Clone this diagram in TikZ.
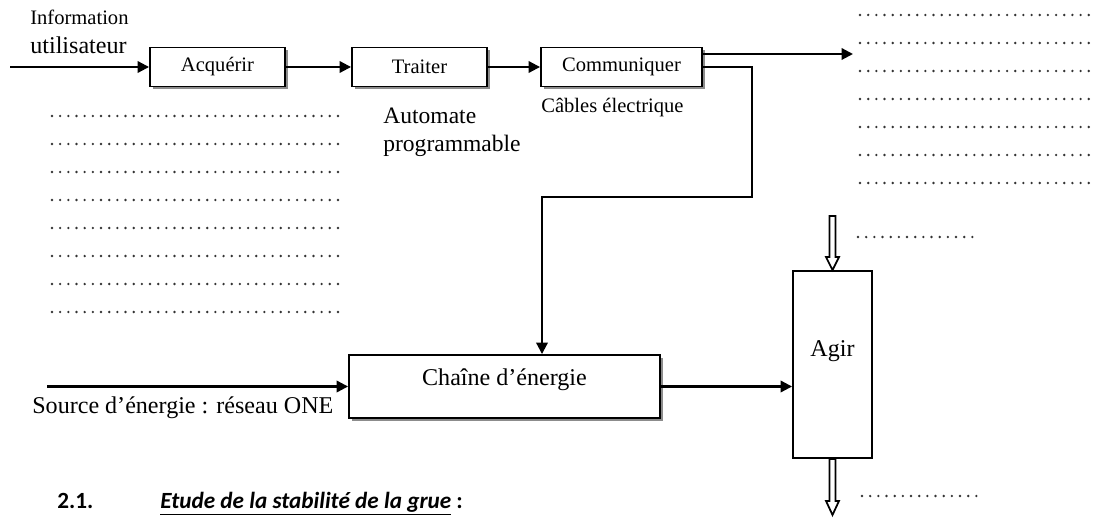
\documentclass[tikz,border=0pt]{standalone}
\usepackage{fontspec}
\setmainfont{Liberation Serif}
\newfontfamily\headfont{Carlito}
\usetikzlibrary{arrows.meta,shadows}

\newcommand\boxfont{\fontsize{11.7}{13}\selectfont}
\newcommand\bigfont{\fontsize{13.7}{16}\selectfont}

\tikzset{
  block/.style={draw, line width=1.1pt, fill=white, inner sep=0pt,
    drop shadow={shadow xshift=1.6pt, shadow yshift=-1.6pt, fill=black!45, opacity=1}},
  plainblock/.style={draw, line width=1.1pt, fill=white, inner sep=0pt},
  flow/.style={line width=1.2pt, -{Triangle[length=6.5pt,width=6.5pt]}},
  blank/.style={line width=1.5pt, line cap=round, dash pattern=on 0pt off 4.65pt, black!80},
  hollow/.style={line width=1pt, fill=white},
  txt/.style={anchor=west, inner sep=0pt},
}

\begin{document}
\begin{tikzpicture}[x=0.02cm, y=-0.02cm]
\useasboundingbox (0,0) rectangle (1098,517);

% chaine d'information
\node[block, minimum width=2.7cm, minimum height=0.78cm, font=\boxfont] (acq) at (217.5,67) {Acquérir};
\node[block, minimum width=2.7cm, minimum height=0.78cm, font=\boxfont] (trt) at (419.5,67) {Traiter};
\node[block, minimum width=3.22cm, minimum height=0.78cm, font=\boxfont] (com) at (621.5,67) {Communiquer};

\node[txt, font=\boxfont] (info) at (30,17) {Information};
\node[txt, font=\bigfont] (user) at (30,45) {utilisateur};
\node[txt, font=\boxfont] (cable) at (541,108) {Câbles électrique};
\node[txt, font=\fontsize{13.4}{16}\selectfont, align=left] (plc) at (383,132) {Automate\\programmable};

% chaine d'energie
\node[block, minimum width=6.22cm, minimum height=1.26cm, font=\bigfont,
  text height=9.9pt, text depth=11.6pt] (chaine) at (504.5,386.5) {Chaîne d’énergie};
\node[plainblock, minimum width=1.58cm, minimum height=3.74cm, font=\bigfont,
  text height=9pt, text depth=17.6pt] (agir) at (832.5,364.5) {Agir};
\node[txt, font=\bigfont] (src) at (32,408) {Source d’énergie : réseau ONE};

\coordinate (infoin) at (10,67);
\coordinate (infoout) at (853,54);
\coordinate (bendA) at (752,197);
\coordinate (bendB) at (542,197);
\coordinate (srcin) at (47,386.5);

\draw[flow] (infoin) -- (acq);
\draw[flow] (acq) -- (trt);
\draw[flow] (trt) -- (com);
\draw[flow] (com.east |- infoout) -- (infoout);
\draw[flow] (com.east) -| (bendA) -- (bendB) -- (bendB |- chaine.north);
\draw[flow] (srcin) -- (chaine);
\draw[flow] (chaine.east) -- (chaine.east -| agir.west);

% fleches creuses
\draw[hollow] (agir.north) -- ++(-6.5,-13) -- ++(3.5,0) -- ++(0,-41) -- ++(6,0) -- ++(0,41) -- ++(3.5,0) -- cycle;
\draw[hollow] (agir.south) -- ++(-3,0) -- ++(0,42) -- ++(-3.5,0) -- ++(6.5,14) -- ++(6.5,-14) -- ++(-3.5,0) -- ++(0,-42) -- cycle;

% pointilles
\foreach \y in {116,144,...,312}
  \draw[blank] (52,\y) -- (338,\y);
\foreach \y in {15,43,...,183}
  \draw[blank] (860,\y) -- (1096,\y);
\draw[blank] (858,237) -- (973,237);
\draw[blank] (862,496) -- (978,496);

% titre
\node[anchor=base west, inner sep=0pt, font=\headfont\bfseries\fontsize{13.2}{15}\selectfont] (num) at (57,508) {2.1.};
\node[anchor=base west, inner sep=0pt, font=\headfont\bfseries\fontsize{13.2}{15}\selectfont] (title) at (160,508) {\textit{\underline{Etude de la stabilité de la grue}} :};
\end{tikzpicture}
\end{document}
